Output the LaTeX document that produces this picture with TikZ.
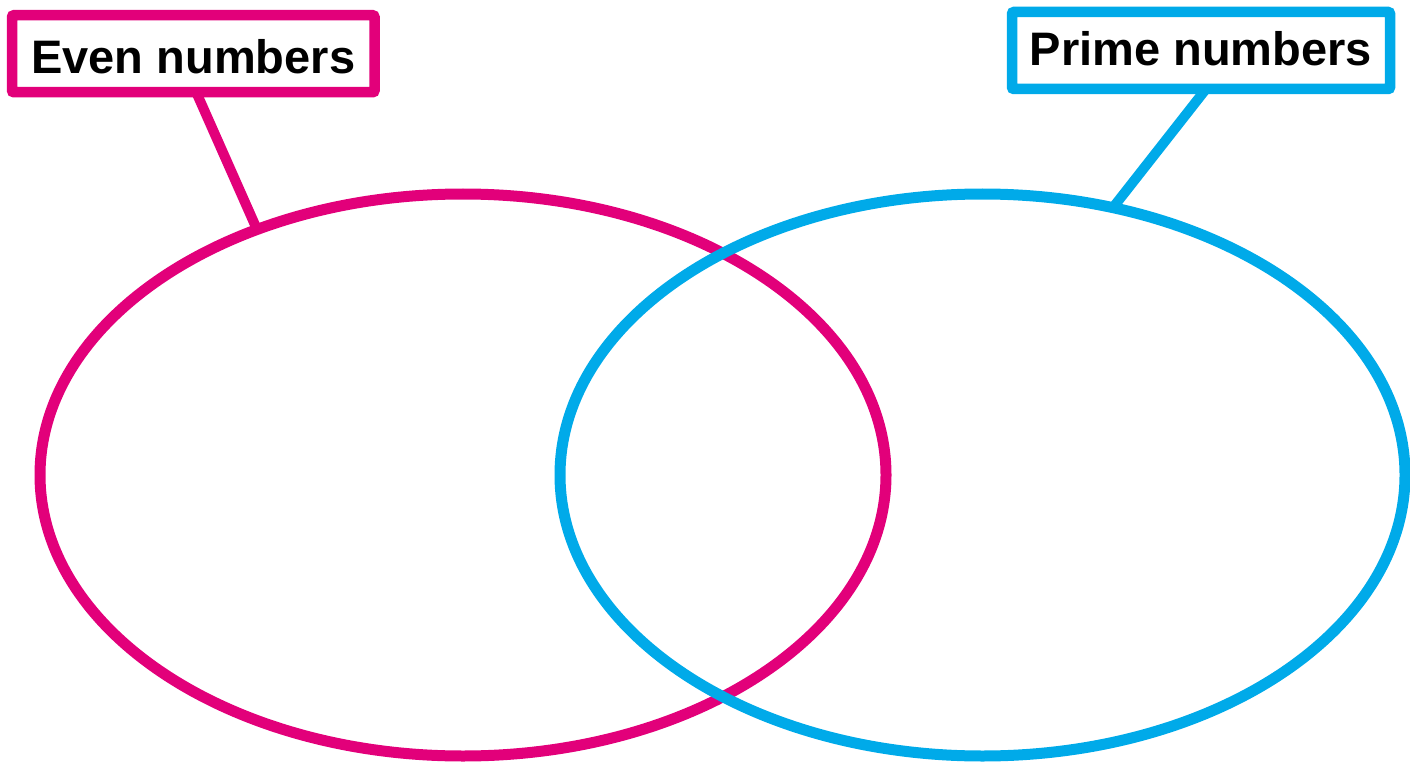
\documentclass[tikz,border=0pt]{standalone}
\usepackage{fontspec}
\setmainfont{Liberation Sans}
\usetikzlibrary{shapes.geometric}
\definecolor{evenpink}{HTML}{E2007A}
\definecolor{primeblue}{HTML}{00AAE9}
\tikzset{
  setell/.style={ellipse, draw=#1, line width=11pt, inner sep=0pt, outer sep=0pt,
    minimum width=846pt, minimum height=562pt},
  labelbox/.style={draw=#1, line width=10.5pt, rounded corners=2pt, inner sep=0pt, outer sep=0pt,
    minimum width=362pt, minimum height=77pt, font=\fontsize{47}{50}\selectfont\bfseries, text=black},
  linkline/.style={draw=#1, line width=10pt}
}
\begin{document}
\begin{tikzpicture}[x=1pt,y=-1pt]
\useasboundingbox (0,0) rectangle (1410,762);
% pink set
\node[setell=evenpink] (evenell) at (463,475) {};
\node[labelbox=evenpink, minimum width=362.5pt, text height=40pt, text depth=0pt] (evenbox) at (193.25,53.75) {Even numbers};
\draw[linkline=evenpink] ([xshift=3pt]evenbox.south) -- (evenell.130);
% blue set
\node[setell=primeblue, minimum width=845pt] (primeell) at (982.5,475) {};
\node[labelbox=primeblue, minimum width=378pt, text height=31pt, text depth=0pt] (primebox) at (1201,50.5) {Prime numbers};
\draw[linkline=primeblue] ([xshift=5pt]primebox.south) -- (primeell.64);
\end{tikzpicture}
\end{document}
